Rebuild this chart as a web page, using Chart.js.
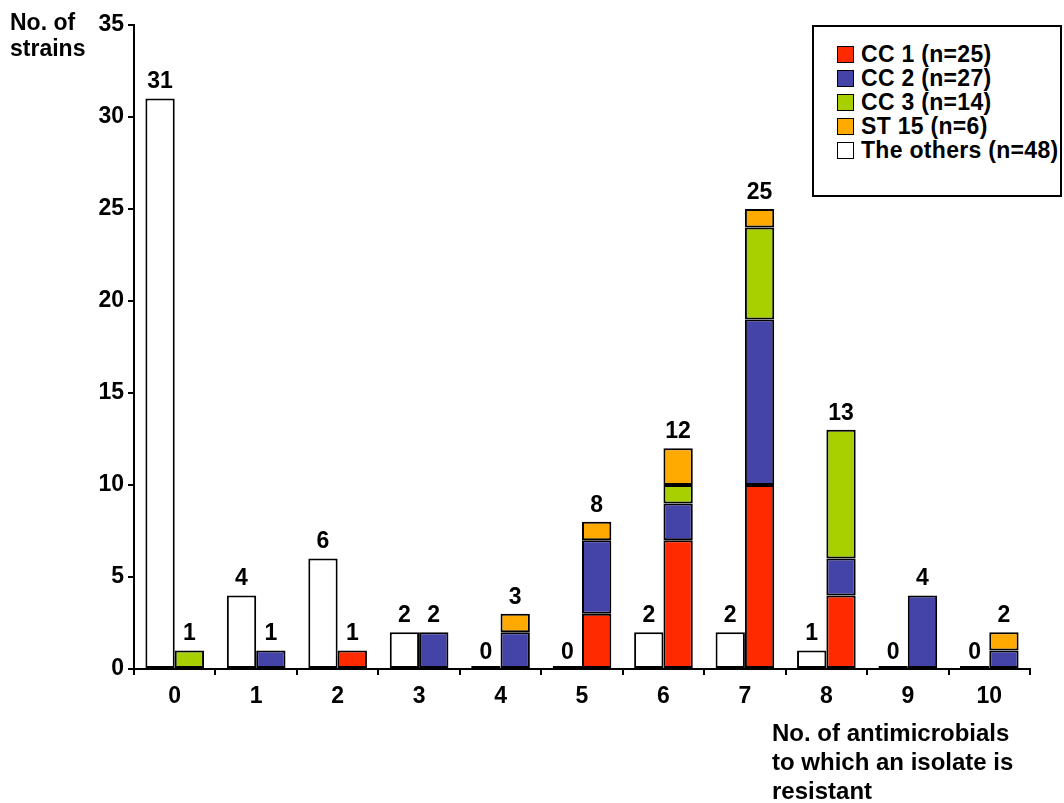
<!DOCTYPE html>
<html>
<head>
<meta charset="utf-8">
<script src="https://cdn.jsdelivr.net/npm/chart.js@4.4.0/dist/chart.umd.min.js"></script>
<style>
  body { margin: 0; background: #fff; font-family: "Liberation Sans", Arial, sans-serif; }
  #wrap { position: relative; width: 1064px; height: 803px; }
  .txt { position: absolute; font-weight: bold; color: #000; font-size: 23px; line-height: 26px; }
  #legend { position: absolute; left: 812px; top: 25px; width: 246px; height: 168px; border: 2px solid #000; background: #fff; }
  #legend .row { position: absolute; left: 23px; height: 24px; display: flex; align-items: center; font-weight: bold; font-size: 23px; white-space: nowrap; letter-spacing: 0.3px; }
  #legend .sw { width: 15px; height: 15px; border: 1.5px solid #000; margin-right: 7px; }
</style>
</head>
<body>
<div id="wrap">
  <canvas id="chart" width="1064" height="803"></canvas>
  <div class="txt" style="left:10px; top:9px;">No. of<br>strains</div>
  <div class="txt" style="left:772px; top:718px; font-size:24px; line-height:29px;">No. of antimicrobials<br>to which an isolate is<br>resistant</div>
  <div id="legend"></div>
</div>
<script>
// categories: number of antimicrobials
const categories = ['0', '1', '2', '3', '4', '5', '6', '7', '8', '9', '10'];

// strain counts per group
const others = [31, 4, 6, 2, 0, 0, 2, 2, 1, 0, 0];
const cc1 = [0, 0, 1, 0, 0, 3, 7, 10, 4, 0, 0];
const cc2 = [0, 1, 0, 2, 2, 4, 2, 9, 2, 4, 1];
const cc3 = [1, 0, 0, 0, 0, 0, 1, 5, 7, 0, 0];
const st15 = [0, 0, 0, 0, 1, 1, 2, 1, 0, 0, 1];

const legendLabels = ['CC 1 (n=25)', 'CC 2 (n=27)', 'CC 3 (n=14)', 'ST 15 (n=6)', 'The others (n=48)'];
const colors = ['#ff2a00', '#4343a8', '#a8cf00', '#ffaa00', '#ffffff'];

// legend in html
const legend = document.getElementById('legend');
legendLabels.forEach((lab, i) => {
  const row = document.createElement('div');
  row.className = 'row';
  row.style.top = (15 + i * 24) + 'px';
  row.innerHTML = '<span class="sw" style="background:' + colors[i] + '"></span>' + lab;
  legend.appendChild(row);
});

// zeros in the stacked group are left out so no stray lines appear
const noZero = arr => arr.map(v => v === 0 ? null : v);

// totals on top of each bar
const totalsPlugin = {
  id: 'totals',
  afterDatasetsDraw(chart) {
    const ctx = chart.ctx;
    const y = chart.scales.y;
    ctx.save();
    ctx.font = 'bold 23px "Liberation Sans", Arial, sans-serif';
    ctx.fillStyle = '#000';
    ctx.textAlign = 'center';
    ctx.textBaseline = 'bottom';
    const m0 = chart.getDatasetMeta(0);
    const m1 = chart.getDatasetMeta(2);
    categories.forEach((c, i) => {
      const tot = cc1[i] + cc2[i] + cc3[i] + st15[i];
      ctx.fillText(String(others[i]), m0.data[i].x, y.getPixelForValue(others[i]) - 5);
      ctx.fillText(String(tot), m1.data[i].x, y.getPixelForValue(tot) - 5);
    });
    ctx.restore();
  }
};

const common = { borderColor: '#000', borderWidth: 2, borderSkipped: false, barPercentage: 1.0, categoryPercentage: 0.72 };

new Chart(document.getElementById('chart'), {
  type: 'bar',
  data: {
    labels: categories,
    datasets: [
      Object.assign({ label: legendLabels[4], data: others, backgroundColor: colors[4], stack: 'o', minBarLength: 3 }, common),
      Object.assign({ label: legendLabels[0], data: noZero(cc1), backgroundColor: colors[0], stack: 'c' }, common),
      Object.assign({ label: legendLabels[1], data: noZero(cc2), backgroundColor: colors[1], stack: 'c' }, common),
      Object.assign({ label: legendLabels[2], data: noZero(cc3), backgroundColor: colors[2], stack: 'c' }, common),
      Object.assign({ label: legendLabels[3], data: noZero(st15), backgroundColor: colors[3], stack: 'c' }, common)
    ]
  },
  options: {
    responsive: false,
    animation: false,
    layout: { padding: { top: 25, right: 34, left: 0, bottom: 0 } },
    plugins: { legend: { display: false }, tooltip: { enabled: false } },
    scales: {
      x: {
        stacked: true,
        grid: { drawOnChartArea: false, color: '#000', lineWidth: 2, tickLength: 6, offset: true },
        border: { color: '#000', width: 2 },
        ticks: { color: '#000', font: { family: '"Liberation Sans", Arial', size: 23, weight: 'bold' }, padding: 8 },
        afterFit(s) { s.height = 134; }
      },
      y: {
        stacked: true,
        min: 0, max: 35,
        ticks: { stepSize: 5, color: '#000', font: { family: '"Liberation Sans", Arial', size: 23, weight: 'bold' }, padding: 4 },
        grid: { drawOnChartArea: false, color: '#000', lineWidth: 2, tickLength: 6 },
        border: { color: '#000', width: 2 },
        afterFit(s) { s.width = 134; }
      }
    }
  },
  plugins: [totalsPlugin]
});
</script>
</body>
</html>
